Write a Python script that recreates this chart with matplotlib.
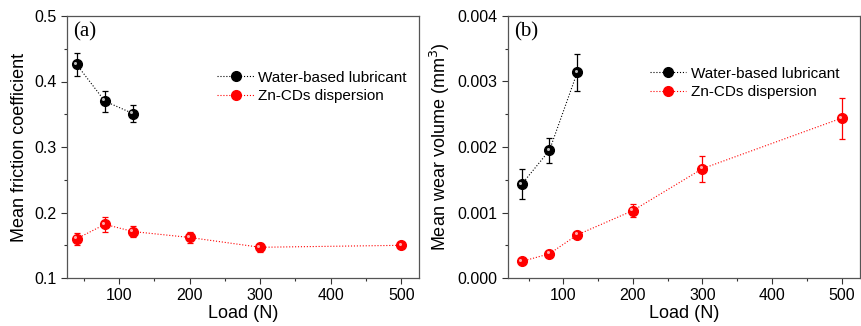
import matplotlib
matplotlib.use('Agg')
import matplotlib.pyplot as plt
from matplotlib.ticker import MultipleLocator, FormatStrFormatter
from matplotlib.lines import Line2D
from matplotlib.transforms import offset_copy

plt.rcParams['font.family'] = ['Liberation Sans', 'DejaVu Sans']

# 数据：载荷
load_water = [40, 80, 120]
load_zn = [40, 80, 120, 200, 300, 500]

# (a) 平均摩擦系数
cof_water = [0.426, 0.370, 0.351]
cof_water_err = [0.018, 0.016, 0.0125]
cof_zn = [0.160, 0.182, 0.171, 0.162, 0.147, 0.150]
cof_zn_err = [0.009, 0.011, 0.009, 0.008, 0.007, 0.004]

# (b) 平均磨损体积
wear_water = [0.00143, 0.00195, 0.00314]
wear_water_err = [0.00023, 0.00019, 0.00028]
wear_zn = [0.000254, 0.000371, 0.00066, 0.00103, 0.00167, 0.00244]
wear_zn_err = [0.00002, 0.00003, 0.00004, 0.0001, 0.0002, 0.00031]

labels = ['Water-based lubricant', 'Zn-CDs dispersion']
colors = ['black', 'red']
shine = ['#bbbbbb', '#ffaaaa']

fig = plt.figure(figsize=(8.61, 3.26), dpi=100)
ax1 = fig.add_axes([0.0775, 0.147, 0.409, 0.804])
ax2 = fig.add_axes([0.5897, 0.147, 0.4095, 0.804])


def draw(ax, yw, yw_err, yz, yz_err):
    hl = offset_copy(ax.transData, fig=fig, x=-1.2, y=1.2, units='points')
    for x, y, e, c, s in [(load_water, yw, yw_err, colors[0], shine[0]),
                          (load_zn, yz, yz_err, colors[1], shine[1])]:
        ax.errorbar(x, y, yerr=e, color=c, ls=':', lw=0.8, marker='o',
                    ms=7, mfc=c, mec=c, ecolor=c, elinewidth=0.9,
                    capsize=2.5, capthick=0.9, zorder=3)
        # 小高光模拟球形标记
        ax.plot(x, y, ls='none', marker='o', ms=2.2, color=s, mew=0,
                transform=hl, zorder=4)
    ax.xaxis.set_major_locator(MultipleLocator(100))
    ax.xaxis.set_minor_locator(MultipleLocator(50))
    ax.tick_params(which='both', direction='out', top=False, right=False,
                   labelsize=11.5, color='#333333')
    ax.tick_params(which='major', length=4, width=0.8)
    ax.tick_params(which='minor', length=2.5, width=0.8)
    for sp in ax.spines.values():
        sp.set_color('#555555')
        sp.set_linewidth(0.9)
    ax.set_xlabel('Load (N)', fontsize=13, labelpad=1)


def add_legend(ax, anchor):
    handles = [Line2D([], [], color=c, ls=':', lw=0.8, marker='o', ms=7)
               for c in colors]
    ax.legend(handles, labels, loc='upper left', bbox_to_anchor=anchor,
              frameon=False, fontsize=11, handlelength=2.4,
              handletextpad=0.3, labelspacing=0.3, borderaxespad=0)


draw(ax1, cof_water, cof_water_err, cof_zn, cof_zn_err)
ax1.set_xlim(26, 525)
ax1.set_ylim(0.1, 0.5)
ax1.yaxis.set_major_locator(MultipleLocator(0.1))
ax1.yaxis.set_minor_locator(MultipleLocator(0.05))
ax1.set_ylabel('Mean friction coefficient', fontsize=13, labelpad=4)
ax1.text(0.017, 0.975, '(a)', transform=ax1.transAxes, ha='left', va='top',
         fontsize=15, family='Liberation Serif')
add_legend(ax1, (0.41, 0.815))

draw(ax2, wear_water, wear_water_err, wear_zn, wear_zn_err)
ax2.set_xlim(20, 527)
ax2.set_ylim(0, 0.004)
ax2.yaxis.set_major_locator(MultipleLocator(0.001))
ax2.yaxis.set_minor_locator(MultipleLocator(0.0005))
ax2.yaxis.set_major_formatter(FormatStrFormatter('%.3f'))
ax2.set_ylabel('Mean wear volume (mm$^3$)', fontsize=13, labelpad=4)
ax2.text(0.017, 0.975, '(b)', transform=ax2.transAxes, ha='left', va='top',
         fontsize=15, family='Liberation Serif')
add_legend(ax2, (0.385, 0.83))

fig.savefig('out.png', dpi=100)
